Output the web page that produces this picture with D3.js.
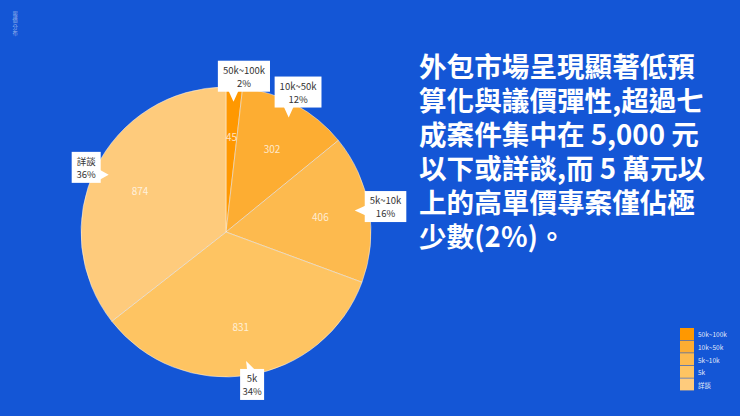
<!DOCTYPE html>
<html><head><meta charset="utf-8">
<script src="https://cdn.jsdelivr.net/npm/d3@7"></script>
<style>
html,body{margin:0;padding:0;background:#1456d6;}
#wrap{position:relative;width:740px;height:416px;overflow:hidden;}
svg{display:block;font-family:"Noto Sans CJK TC","Noto Sans",sans-serif;}
#title{position:absolute;left:419px;top:48px;font-family:"Noto Sans CJK TC",sans-serif;font-weight:bold;font-size:27.6px;line-height:34px;color:#fff;white-space:pre;margin:0;}
</style></head>
<body>
<div id="wrap"><svg id="c" width="740" height="416"></svg><div id="title"></div></div>
<script>
const categories = ["50k~100k", "10k~50k", "5k~10k", "5k", "詳談"];
const values = [45, 302, 406, 831, 874];
const percentLabels = ["2%", "12%", "16%", "34%", "36%"];
const colors = ["#ff9800", "#fdad32", "#fdba4e", "#fec462", "#fecb7c"];
const titleLines = ["外包市場呈現顯著低預", "算化與議價彈性,超過七", "成案件集中在 5,000 元", "以下或詳談,而 5 萬元以", "上的高單價專案僅佔極", "少數(2%)。"];
const cornerText = ["報", "價", "分", "布"];

const svg = d3.select("#c");
svg.append("rect").attr("width",740).attr("height",416).attr("fill","#1456d6");

// corner vertical text
svg.append("g").selectAll("text").data(cornerText).join("text")
  .attr("x", 15).attr("y", (d,i)=>13+i*6.6)
  .attr("text-anchor","middle").attr("dominant-baseline","central")
  .attr("font-size",5.2).attr("fill","rgba(255,255,255,0.55)").text(d=>d);

const cx = 226, cy = 232, R = 145;
const color = d3.scaleOrdinal().domain(categories).range(colors);
const data = categories.map((c,i)=>({cat:c, value:values[i], pct:percentLabels[i]}));
const pie = d3.pie().value(d=>d.value).sort(null);
const arcs = pie(data);
const arc = d3.arc().innerRadius(0).outerRadius(R);
const labelArc = d3.arc().innerRadius(R*0.66).outerRadius(R*0.66);
const tipArc = d3.arc().innerRadius(R*0.9).outerRadius(R*0.9);

const g = svg.append("g").attr("transform",`translate(${cx},${cy})`);
g.selectAll("path").data(arcs).join("path")
  .attr("d", arc).attr("fill", d=>color(d.data.cat))
  .attr("stroke","rgba(255,255,255,0.55)").attr("stroke-width",0.8);

g.selectAll("text.v").data(arcs).join("text").attr("class","v")
  .attr("transform", d=>`translate(${labelArc.centroid(d)})`)
  .attr("text-anchor","middle").attr("dominant-baseline","central")
  .attr("font-size",10).attr("fill","rgba(255,255,255,0.75)")
  .text(d=>d.data.value);

// callouts
const lh = 13, fs = 9.5;
arcs.forEach(d=>{
  const mid = (d.startAngle+d.endAngle)/2;
  const [tx, ty] = tipArc.centroid(d);
  const s = Math.sin(mid), c = Math.cos(mid);
  const lines = [d.data.cat, d.data.pct];
  const cg = g.append("g");
  const tmp = cg.append("text").attr("font-size",fs).text(d.data.cat);
  const tw = Math.max(tmp.node().getComputedTextLength(), 14);
  tmp.remove();
  const bw = tw + 10, bh = lh*2 + 5;
  let bx, by, tri;
  if (Math.abs(s) > 0.85) {
    if (s > 0) { // right
      bx = tx + 10; by = ty - bh*0.63;
      tri = [[tx,ty],[bx+1,ty-5],[bx+1,ty+5]];
    } else { // left
      bx = tx - 8 - bw; by = ty - bh*0.74;
      tri = [[tx,ty],[bx+bw-1,ty-5],[bx+bw-1,ty+5]];
    }
  } else if (c > 0) { // above
    bx = tx - bw*0.3; by = ty - 10 - bh;
    tri = [[tx,ty],[tx-5,by+bh-1],[tx+5,by+bh-1]];
  } else { // below
    bx = tx - 6; by = ty + 8;
    tri = [[tx,ty],[tx+1,by+1],[tx+9,by+1]];
  }
  cg.append("rect").attr("x",bx).attr("y",by).attr("width",bw).attr("height",bh).attr("fill","#fff");
  cg.append("path").attr("d", d3.line()(tri)+"Z").attr("fill","#fff");
  cg.selectAll("text").data(lines).join("text")
    .attr("x", bx+bw/2).attr("y",(l,i)=>by+2.5+lh/2+i*lh)
    .attr("text-anchor","middle").attr("dominant-baseline","central")
    .attr("font-size",fs).attr("fill","#333").text(l=>l);
});

// title (HTML block, one line per entry)
d3.select("#title").text(titleLines.join("\n"));

// legend
const leg = svg.append("g");
const ly = d3.scaleBand().domain(categories).range([328,391]);
leg.selectAll("rect").data(categories).join("rect")
  .attr("x",680).attr("y",d=>ly(d)).attr("width",14).attr("height",ly.bandwidth()-0.6)
  .attr("fill",d=>color(d));
leg.selectAll("text").data(categories).join("text")
  .attr("x",698).attr("y",d=>ly(d)+ly.bandwidth()/2)
  .attr("dominant-baseline","central").attr("font-size",6.5)
  .attr("fill","rgba(255,255,255,0.9)").text(d=>d);
</script>
</body></html>
